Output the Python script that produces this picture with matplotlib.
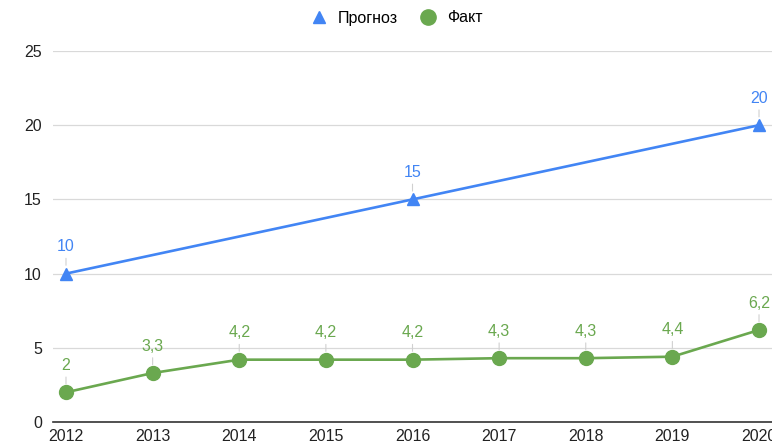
import matplotlib
matplotlib.use("Agg")
import matplotlib.pyplot as plt
from matplotlib.lines import Line2D

plt.rcParams['font.family'] = ['Liberation Sans', 'DejaVu Sans']

years = [2012, 2013, 2014, 2015, 2016, 2017, 2018, 2019, 2020]
forecast_years = [2012, 2016, 2020]
forecast = [10, 15, 20]
fact = [2, 3.3, 4.2, 4.2, 4.2, 4.3, 4.3, 4.4, 6.2]
yticks = [0, 5, 10, 15, 20, 25]
series_names = ['Прогноз', 'Факт']

blue = '#4285F4'
green = '#6AA84F'

fig = plt.figure(figsize=(7.72, 4.46), dpi=100)
ax = fig.add_axes([53/772, 1-422/446, 1-53/772, (422-51)/446])

ax.plot(forecast_years, forecast, color=blue, lw=1.9, marker='^', ms=9,
        clip_on=False, zorder=3)
ax.plot(years, fact, color=green, lw=1.9, marker='o', ms=10,
        clip_on=False, zorder=3)

def fmt(v):
    s = f"{v:g}"
    return s.replace('.', ',')

for xs, ys, c in [(forecast_years, forecast, blue), (years, fact, green)]:
    for x, y in zip(xs, ys):
        ax.annotate(fmt(y), xy=(x, y), xytext=(0, 14), textcoords='offset points',
                    ha='center', va='bottom', color=c, fontsize=11.5,
                    annotation_clip=False,
                    arrowprops=dict(arrowstyle='-', color='#d0d0d0', lw=0.8,
                                    shrinkA=1, shrinkB=6))

ax.set_xlim(2011.85, 2020.15)
ax.set_ylim(0, 25)
ax.set_xticks(years)
ax.set_xticklabels([str(y) for y in years])
ax.set_yticks(yticks)
ax.set_yticklabels([str(t) for t in yticks])
ax.tick_params(axis='both', length=0, labelsize=11.5, colors='#222222')
ax.tick_params(axis='x', pad=5)
ax.tick_params(axis='y', pad=8)
ax.grid(axis='y', color='#d9d9d9', lw=0.9)
ax.set_axisbelow(True)
for s in ['top', 'right', 'left']:
    ax.spines[s].set_visible(False)
ax.spines['bottom'].set_color('#333333')
ax.spines['bottom'].set_linewidth(1.2)

handles = [Line2D([], [], color=blue, marker='^', ls='none', ms=9),
           Line2D([], [], color=green, marker='o', ls='none', ms=11)]
fig.legend(handles, series_names, loc='center', bbox_to_anchor=(396/772, 1-18/446),
           ncol=2, frameon=False, fontsize=11.5, handletextpad=0.55,
           columnspacing=1.3, handlelength=1.2)

fig.savefig('out.png', dpi=100)
